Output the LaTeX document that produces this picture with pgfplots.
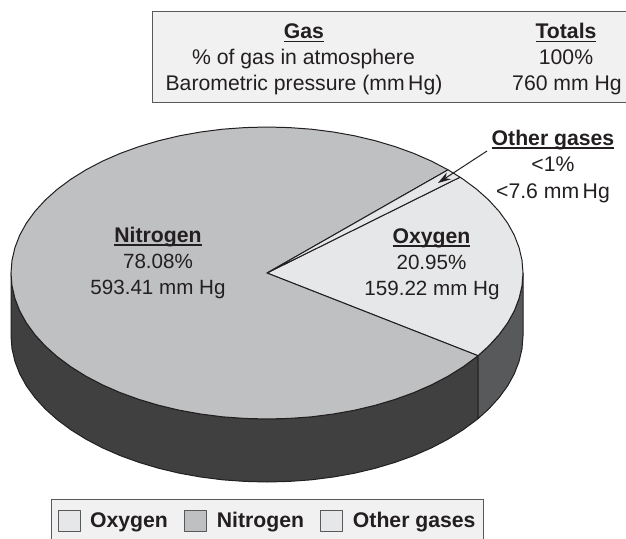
\documentclass[border=0pt]{standalone}
\usepackage{pgfplots}
\pgfplotsset{compat=1.18}
\usepackage{fontspec}
\setmainfont{Liberation Sans}
\usetikzlibrary{arrows.meta}
\definecolor{ink}{HTML}{231F20}
\definecolor{nitro}{HTML}{BFC0C2}
\definecolor{oxy}{HTML}{E6E7E8}
\definecolor{sidedark}{HTML}{404041}
\definecolor{sideoxy}{HTML}{58595B}
\definecolor{boxfill}{HTML}{F1F1F2}
\newcommand\ul[1]{\setbox0\hbox{\fontsize{21.2bp}{24bp}\selectfont\bfseries #1}\dp0=0pt\vtop{\copy0\kern 2.2bp\hrule height 1.3bp}}
\newcommand\lab{\fontsize{20.6bp}{24bp}\selectfont\color{ink}}
\newcommand\labb{\fontsize{21.2bp}{24bp}\selectfont\color{ink}}
\begin{document}
\begin{tikzpicture}
\path[use as bounding box] (0,0) rectangle (626bp,539bp);
\begin{axis}[
  hide axis, scale only axis, width=626bp, height=539bp,
  at={(0,0)}, anchor=south west,
  xmin=0, xmax=626, ymin=0, ymax=539, y dir=reverse, clip=false,
  legend columns=3,
  legend style={at={(axis cs:51,499)}, anchor=north west, draw=sideoxy, line width=1.2bp, fill=boxfill,
    font=\fontsize{21.2bp}{24bp}\selectfont\bfseries\color{ink},
    inner xsep=6bp, inner ysep=10bp,
    /tikz/every even column/.style={column sep=14.5bp},
    /tikz/every odd column/.style={column sep=7.5bp}},
  legend image code/.code={\draw[#1,draw=sideoxy,line width=1bp] (0bp,-10.5bp) rectangle (22bp,10.5bp);},
]
% side walls
\addplot[forget plot, fill=sidedark, draw=ink, line width=1bp, line join=round] coordinates {
(11,273)(12,285.7)(14.9,298.3)(19.7,310.8)(26.4,322.9)(35,334.7)(45.3,346)(57.3,356.7)(70.9,366.8)(86,376.2)(102.4,384.8)(120.2,392.6)(139,399.4)(158.8,405.3)(179.4,410.2)(200.7,414)(222.5,416.8)(244.7,418.4)(267,419)(289.3,418.4)(311.5,416.8)(333.3,414)(354.6,410.2)(375.2,405.3)(395,399.4)(413.8,392.6)(431.6,384.8)(448,376.2)(463.1,366.8)(476.7,356.7)(478,355.7)
(478,418.7)(476.7,419.7)(463.1,429.8)(448,439.2)(431.6,447.8)(413.8,455.6)(395,462.4)(375.2,468.3)(354.6,473.2)(333.3,477)(311.5,479.8)(289.3,481.4)(267,482)(244.7,481.4)(222.5,479.8)(200.7,477)(179.4,473.2)(158.8,468.3)(139,462.4)(120.2,455.6)(102.4,447.8)(86,439.2)(70.9,429.8)(57.3,419.7)(45.3,409)(35,397.7)(26.4,385.9)(19.7,373.8)(14.9,361.3)(12,348.7)(11,336)
} --cycle;
\addplot[forget plot, fill=sideoxy, draw=ink, line width=1bp, line join=round] coordinates {
(478,355.7)(488.7,346)(499,334.7)(507.6,322.9)(514.3,310.8)(519.1,298.3)(522,285.7)(523,273)
(523,336)(522,348.7)(519.1,361.3)(514.3,373.8)(507.6,385.9)(499,397.7)(488.7,409)(478,418.7)
} --cycle;
% top face: oxygen, nitrogen, other gases
\addplot[fill=oxy, draw=ink, line width=1bp, line join=round] coordinates {
(267,273)(460,177.2)(463.1,179.2)(476.7,189.3)(488.7,200)(499,211.3)(507.6,223.1)(514.3,235.2)(519.1,247.7)(522,260.3)(523,273)(522,285.7)(519.1,298.3)(514.3,310.8)(507.6,322.9)(499,334.7)(488.7,346)(478,355.7)
} --cycle;
\addlegendentry{Oxygen}
\addplot[fill=nitro, draw=ink, line width=1bp, line join=round] coordinates {
(267,273)(448,169.8)(431.6,161.2)(413.8,153.4)(395,146.6)(375.2,140.7)(354.6,135.8)(333.3,132)(311.5,129.2)(289.3,127.6)(267,127)(244.7,127.6)(222.5,129.2)(200.7,132)(179.4,135.8)(158.8,140.7)(139,146.6)(120.2,153.4)(102.4,161.2)(86,169.8)(70.9,179.2)(57.3,189.3)(45.3,200)(35,211.3)(26.4,223.1)(19.7,235.2)(14.9,247.7)(12,260.3)(11,273)(12,285.7)(14.9,298.3)(19.7,310.8)(26.4,322.9)(35,334.7)(45.3,346)(57.3,356.7)(70.9,366.8)(86,376.2)(102.4,384.8)(120.2,392.6)(139,399.4)(158.8,405.3)(179.4,410.2)(200.7,414)(222.5,416.8)(244.7,418.4)(267,419)(289.3,418.4)(311.5,416.8)(333.3,414)(354.6,410.2)(375.2,405.3)(395,399.4)(413.8,392.6)(431.6,384.8)(448,376.2)(463.1,366.8)(476.7,356.7)(478,355.7)
} --cycle;
\addlegendentry{Nitrogen}
\addplot[fill=oxy, draw=ink, line width=1bp, line join=round] coordinates {
(267,273)(448,169.8)(460,177.2)
} --cycle;
\addlegendentry{Other gases}
% arrow
\addplot[forget plot, draw=ink, line width=1bp, -{Stealth[length=13bp,width=8bp]}] coordinates {(487,151)(438,183)};
% table box
\fill[boxfill] (axis cs:152.7,11.7) rectangle (axis cs:626,102.7);
\draw[sideoxy, line width=1.4bp] (axis cs:626,11.7) -- (axis cs:152.7,11.7) -- (axis cs:152.7,102.7) -- (axis cs:626,102.7);
\node[anchor=base, inner sep=0pt] at (axis cs:304,38.5) {\labb\ul{Gas}};
\node[anchor=base, inner sep=0pt] at (axis cs:303.5,64.5) {\labb\% of gas in atmosphere};
\node[anchor=base, inner sep=0pt] at (axis cs:304,90.5) {\labb Barometric pressure (mm\,Hg)};
\node[anchor=base, inner sep=0pt] at (axis cs:566,38.5) {\labb\ul{Totals}};
\node[anchor=base, inner sep=0pt] at (axis cs:566,64.5) {\labb 100\%};
\node[anchor=base, inner sep=0pt] at (axis cs:567,90.5) {\labb 760 mm Hg};
% labels
\node[anchor=base, inner sep=0pt] at (axis cs:158,242) {\lab\ul{Nitrogen}};
\node[anchor=base, inner sep=0pt] at (axis cs:158,268) {\lab 78.08\%};
\node[anchor=base, inner sep=0pt] at (axis cs:158,294) {\lab 593.41 mm Hg};
\node[anchor=base, inner sep=0pt] at (axis cs:431.5,243) {\lab\ul{Oxygen}};
\node[anchor=base, inner sep=0pt] at (axis cs:431.5,269) {\lab 20.95\%};
\node[anchor=base, inner sep=0pt] at (axis cs:432,295) {\lab 159.22 mm Hg};
\node[anchor=base, inner sep=0pt] at (axis cs:553,145) {\labb\ul{Other gases}};
\node[anchor=base, inner sep=0pt] at (axis cs:553,171) {\labb <1\%};
\node[anchor=base, inner sep=0pt] at (axis cs:553,198) {\labb <7.6 mm\,Hg};
\end{axis}
\end{tikzpicture}
\end{document}
